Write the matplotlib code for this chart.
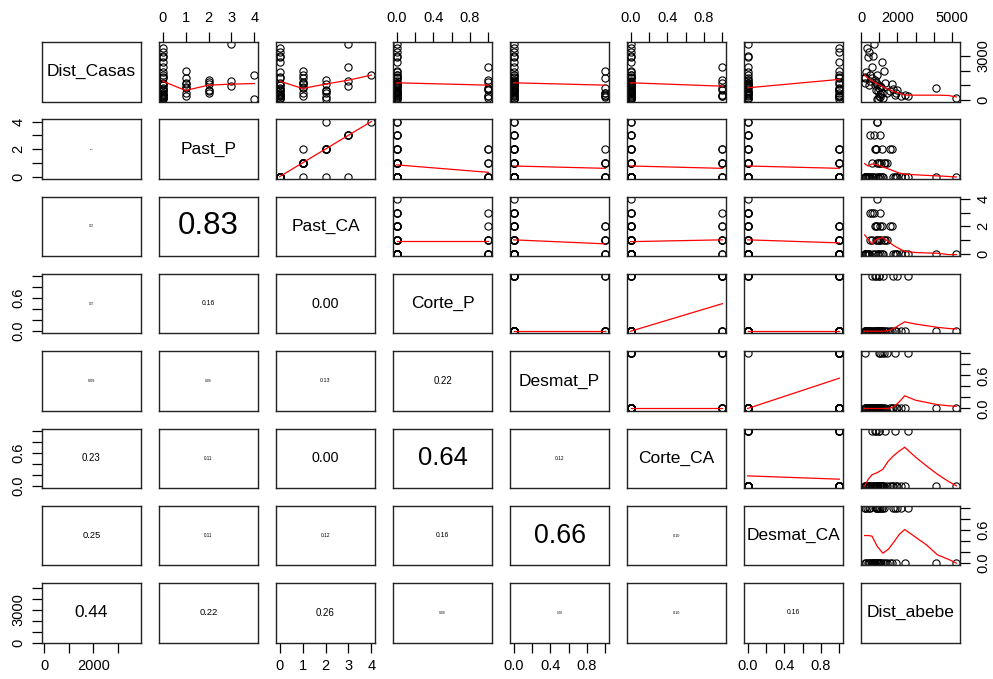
import matplotlib
matplotlib.use('Agg')
import matplotlib.pyplot as plt
import numpy as np

plt.rcParams['font.family'] = ['Liberation Sans', 'DejaVu Sans']

var_names = ["Dist_Casas", "Past_P", "Past_CA", "Corte_P", "Desmat_P", "Corte_CA", "Desmat_CA", "Dist_abebe"]

# observations, one value per site
dist_casas = [3800, 3250, 2900, 2580, 2250, 1970, 1520, 1180, 1400, 1100, 800, 400, 100, 1100, 750, 480,
              350, 300, 270, 800, 160, 3550, 1900, 1700, 1500, 1300, 1250, 950, 1700, 60, 600, 300,
              200, 700, 900, 500, 1050, 1200, 150, 1600, 1000, 500, 350, 600, 3000, 700]
past_p = [3, 0, 0, 0, 0, 1, 0, 0, 2, 1, 1, 0, 0, 2, 0, 1, 0, 0, 0, 0, 0, 0, 0, 0, 1, 3, 2, 3, 4, 4, 0, 1,
          0, 2, 1, 2, 0, 1, 0, 0, 0, 0, 0, 2, 0, 0]
past_ca = [3, 0, 0, 0, 3, 1, 0, 0, 2, 1, 1, 0, 0, 2, 0, 1, 0, 0, 0, 0, 0, 0, 0, 1, 1, 3, 1, 3, 4, 2, 0, 1,
           2, 2, 1, 2, 0, 1, 0, 0, 0, 0, 0, 2, 0, 0]
corte_p = [0, 0, 0, 0, 1, 0, 0, 0, 1, 0, 1, 0, 0, 0, 1, 0, 0, 0, 1, 0, 0, 0, 0, 0, 0, 0, 1, 0, 0, 0, 0, 1,
           0, 0, 0, 0, 0, 0, 1, 0, 0, 0, 0, 0, 0, 1]
desmat_p = [0, 0, 0, 0, 0, 1, 1, 0, 0, 0, 1, 0, 0, 0, 0, 1, 1, 0, 1, 0, 0, 0, 0, 0, 0, 0, 0, 0, 0, 0, 0, 0,
            1, 0, 0, 1, 0, 0, 0, 0, 0, 0, 0, 0, 0, 0]
corte_ca = [0, 0, 0, 0, 1, 0, 0, 0, 1, 0, 1, 0, 0, 0, 0, 0, 1, 0, 1, 0, 0, 0, 0, 0, 0, 0, 0, 0, 0, 0, 0, 1,
            0, 1, 0, 0, 0, 1, 0, 0, 0, 0, 0, 0, 0, 0]
desmat_ca = [0, 1, 0, 1, 0, 1, 1, 0, 0, 1, 1, 0, 1, 0, 1, 0, 1, 1, 1, 0, 0, 1, 0, 1, 0, 0, 1, 0, 0, 0, 0, 0,
             1, 1, 0, 1, 0, 0, 0, 1, 0, 0, 0, 0, 0, 1]
dist_abebe = [690, 420, 400, 1150, 590, 1240, 210, 230, 780, 900, 1000, 1050, 950, 1700, 1780, 1440,
              1850, 2200, 2610, 4100, 5240, 330, 300, 500, 620, 500, 800, 1050, 870, 870, 950, 1000,
              1050, 800, 1100, 1150, 750, 1300, 1200, 200, 450, 1900, 2400, 1600, 650, 2000]

# lowess curves
smooth_bin_x = [0, 1]
smooth_casas_bin = [[1180, 1020], [1180, 1020], [1180, 950], [840, 1410]]
smooth_pastp_bin = [[0.85, 0.31], [0.77, 0.60], [0.77, 0.60], [0.77, 0.60]]
smooth_pastca_bin = [[0.92, 0.92], [1.02, 0.73], [0.89, 1.02], [1.02, 0.80]]
smooth_cortep_bin = [[0, 0], [0, 0.5], [0, 0]]
smooth_desmatp_bin = [[0, 0], [0, 0.55]]
smooth_corteca_bin = [[0.18, 0.12]]
smooth_count_x = [0, 1, 2, 3, 4]
smooth_casas_pastp = [1290, 660, 1020, 1090, 1130]
smooth_casas_pastca = [1290, 795, 1090, 1360, 1700]
smooth_pastp_pastca = [0, 1, 2, 3, 4]
smooth_abebe_x = [200, 400, 600, 900, 1200, 1500, 1800, 2100, 2400, 3000, 3600, 4200, 4800, 5240]
smooth_casas_abebe = [1700, 1470, 1310, 1110, 920, 750, 590, 470, 350, 340, 340, 340, 320, 220]
smooth_pastp_abebe = [0.94, 0.76, 0.92, 0.85, 0.70, 0.56, 0.41, 0.26, 0.18, 0.13, 0.09, 0.05, 0.01, -0.03]
smooth_pastca_abebe = [1.38, 1.05, 0.73, 1.10, 1.18, 0.90, 0.60, 0.38, 0.19, 0.10, 0.07, 0.05, -0.05, -0.05]
smooth_cortep_abebe = [0, 0, 0, 0, 0, 0.01, 0.05, 0.11, 0.17, 0.13, 0.10, 0.07, 0.05, 0.04]
smooth_desmatp_abebe = [0, 0, 0, 0, 0, 0, 0.03, 0.12, 0.23, 0.15, 0.11, 0.07, 0.05, 0.04]
smooth_corteca_abebe = [0.0, 0.12, 0.20, 0.24, 0.30, 0.45, 0.55, 0.63, 0.70, 0.52, 0.36, 0.21, 0.08, 0.0]
smooth_desmatca_abebe = [0.50, 0.50, 0.49, 0.30, 0.18, 0.25, 0.38, 0.52, 0.61, 0.47, 0.33, 0.15, 0.07, 0.0]

# lower panels: printed correlation and the size it was drawn with
cor_text = [[], ["0.05"], ["0.07", "0.83"], ["0.07", "0.16", "0.00"],
            ["0.09", "0.09", "0.13", "0.22"], ["0.23", "0.11", "0.00", "0.64", "0.12"],
            ["0.25", "0.11", "0.12", "0.16", "0.66", "0.10"],
            ["0.44", "0.22", "0.26", "0.09", "0.08", "0.10", "0.16"]]
cor_cex = [[], [0.05], [0.07, 0.83], [0.07, 0.18, 0.38], [0.10, 0.09, 0.14, 0.26],
           [0.26, 0.12, 0.38, 0.68, 0.13], [0.25, 0.12, 0.13, 0.18, 0.71, 0.10],
           [0.46, 0.25, 0.26, 0.09, 0.08, 0.10, 0.18]]

# axis ticks and the labels R kept
bin_ticks = [0, 0.2, 0.4, 0.6, 0.8, 1.0]
count_ticks = [0, 1, 2, 3, 4]
var_ticks = [[0, 1000, 2000, 3000], count_ticks, count_ticks, bin_ticks, bin_ticks, bin_ticks, bin_ticks,
             [0, 1000, 2000, 3000, 4000, 5000]]
xtick_labels = [["0", "", "2000", ""], ["0", "1", "2", "3", "4"], ["0", "1", "2", "3", "4"],
                ["0.0", "", "0.4", "", "0.8", ""], ["0.0", "", "0.4", "", "0.8", ""],
                ["0.0", "", "0.4", "", "0.8", ""], ["0.0", "", "0.4", "", "0.8", ""],
                ["0", "", "2000", "", "", "5000"]]
ytick_labels = [["0", "", "", "3000"], ["0", "", "2", "", "4"], ["0", "", "2", "", "4"],
                ["0.0", "", "", "0.6", "", ""], ["0.0", "", "", "0.6", "", ""],
                ["0.0", "", "", "0.6", "", ""], ["0.0", "", "", "0.6", "", ""],
                ["0", "", "", "3000", "", ""]]

data = [dist_casas, past_p, past_ca, corte_p, desmat_p, corte_ca, desmat_ca, dist_abebe]
data = [np.array(v, dtype=float) for v in data]

smooth = {(0, 1): (smooth_count_x, smooth_casas_pastp),
          (0, 2): (smooth_count_x, smooth_casas_pastca),
          (1, 2): (smooth_count_x, smooth_pastp_pastca)}
# the 0/1 variables sit in columns 3..6, so each row's fits end at column 6
for row, fits in [(0, smooth_casas_bin), (1, smooth_pastp_bin), (2, smooth_pastca_bin),
                  (3, smooth_cortep_bin), (4, smooth_desmatp_bin), (5, smooth_corteca_bin)]:
    for k, f in enumerate(fits):
        smooth[(row, 7 - len(fits) + k)] = (smooth_bin_x, f)
for row, f in enumerate([smooth_casas_abebe, smooth_pastp_abebe, smooth_pastca_abebe, smooth_cortep_abebe,
                         smooth_desmatp_abebe, smooth_corteca_abebe, smooth_desmatca_abebe]):
    smooth[(row, 7)] = (smooth_abebe_x, f)


def lims(v):
    r = v.max() - v.min()
    return v.min() - 0.04 * r, v.max() + 0.04 * r


W, H = 993, 679
fig = plt.figure(figsize=(W / 100, H / 100), dpi=100)
n = len(var_names)
for i in range(n):
    for j in range(n):
        left = 42 + j * 117
        top = 42 + i * 77.3
        ax = fig.add_axes([left / W, 1 - (top + 59.5) / H, 99 / W, 59.5 / H])
        for s in ax.spines.values():
            s.set_color('#222222')
            s.set_linewidth(1.0)
        ax.set_xlim(*lims(data[j]))
        ax.set_ylim(*lims(data[i]))
        ax.tick_params(which='both', top=False, bottom=False, left=False, right=False,
                       labeltop=False, labelbottom=False, labelleft=False, labelright=False,
                       length=7, width=0.9, pad=5, labelsize=10.5, colors='black')
        ax.set_xticks(var_ticks[j])
        ax.set_xticklabels(xtick_labels[j])
        ax.set_yticks(var_ticks[i])
        ax.set_yticklabels(ytick_labels[i], rotation=90, va='center')
        if i == 0 and j % 2 == 1:
            ax.tick_params(axis='x', top=True, labeltop=True)
        if i == n - 1 and j % 2 == 0:
            ax.tick_params(axis='x', bottom=True, labelbottom=True)
        if j == 0 and i % 2 == 1:
            ax.tick_params(axis='y', left=True, labelleft=True)
        if j == n - 1 and i % 2 == 0:
            ax.tick_params(axis='y', right=True, labelright=True)

        if i == j:
            ax.text(0.5, 0.5, var_names[i], transform=ax.transAxes, ha='center', va='center',
                    fontsize=12.5)
        elif i < j:
            ax.plot(data[j], data[i], 'o', mfc='none', mec='black', ms=5.2, mew=0.8)
            sx, sy = smooth[(i, j)]
            ax.plot(sx, sy, color='red', lw=0.9)
        else:
            ax.text(0.5, 0.5, cor_text[i][j], transform=ax.transAxes, ha='center', va='center',
                    fontsize=27.1 * cor_cex[i][j])

fig.savefig('out.png', dpi=100)
